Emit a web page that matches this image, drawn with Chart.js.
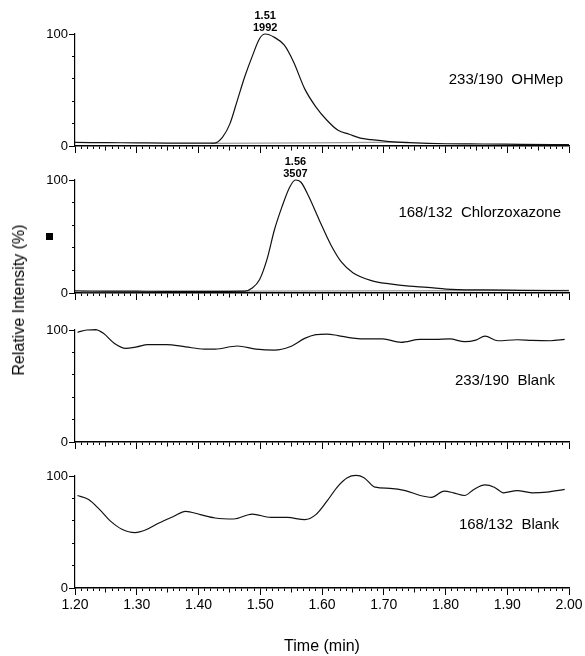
<!DOCTYPE html>
<html>
<head>
<meta charset="utf-8">
<script src="https://cdn.jsdelivr.net/npm/chart.js@4/dist/chart.umd.min.js"></script>
<style>
  html, body { margin: 0; padding: 0; background: #fff; }
  #wrap { position: relative; width: 585px; height: 656px; overflow: hidden; }
  #wrap canvas { position: absolute; left: 0; }
  #ytitle {
    position: absolute; left: 19px; top: 300px;
    transform: translate(-50%, -50%) rotate(-90deg);
    font: 16px "Liberation Sans", Arial, sans-serif; white-space: nowrap; color: #000;
  }
</style>
</head>
<body>
<div id="wrap">
  <canvas id="p1" width="585" height="152" style="top:4px"></canvas>
  <canvas id="p2" width="585" height="153" style="top:150px"></canvas>
  <canvas id="p3" width="585" height="152" style="top:300px"></canvas>
  <canvas id="p4" width="585" height="210" style="top:446px"></canvas>
  <div id="ytitle">Relative Intensity (%)</div>
</div>
<script>
// 233/190 OHMep (time in min, relative intensity in %)
const ohmepTime = [1.20, 1.25, 1.30, 1.35, 1.40, 1.425, 1.439, 1.451, 1.463, 1.475, 1.487, 1.499, 1.508, 1.523, 1.539, 1.554, 1.572, 1.590, 1.608, 1.626, 1.644, 1.662, 1.680, 1.710, 1.741, 1.801, 1.861, 1.922, 2.00];
const ohmepValue = [3.2, 3.0, 2.8, 2.6, 2.5, 2.5, 8, 20, 41, 62, 80, 96, 100, 97, 90, 75, 51, 35, 23, 14, 10.5, 7, 5.7, 3.9, 3.0, 2.0, 1.8, 1.5, 1.2];
const ohmepBaseTime = [1.42, 1.74];
const ohmepBaseValue = [2.3, 3.4];

// 168/132 Chlorzoxazone
const chlorTime = [1.20, 1.25, 1.30, 1.35, 1.40, 1.45, 1.475, 1.487, 1.499, 1.511, 1.523, 1.535, 1.548, 1.557, 1.566, 1.578, 1.596, 1.614, 1.632, 1.650, 1.680, 1.710, 1.741, 1.771, 1.801, 1.861, 1.922, 2.00];
const chlorValue = [1.8, 1.7, 1.6, 1.5, 1.5, 1.5, 1.6, 4.4, 12, 30, 56, 76, 94, 100, 98, 86, 64, 43, 27, 18, 11, 8, 6, 5, 3.5, 2.7, 2.4, 2.0];
const chlorBaseTime = [1.21, 2.00];
const chlorBaseValue = [1.2, 2.4];

// 233/190 Blank
const blankATime = [1.204, 1.219, 1.234, 1.246, 1.264, 1.282, 1.300, 1.318, 1.348, 1.379, 1.409, 1.427, 1.463, 1.493, 1.523, 1.548, 1.572, 1.590, 1.608, 1.626, 1.650, 1.674, 1.698, 1.728, 1.759, 1.783, 1.807, 1.831, 1.849, 1.864, 1.885, 1.916, 1.940, 1.970, 1.993];
const blankAValue = [98, 100, 100.3, 97, 88, 83.6, 85, 87, 87, 85, 83, 83, 85.7, 83, 82, 85, 92.5, 95.8, 96.4, 95, 92.8, 92, 92, 89, 91.6, 91.6, 92, 89.6, 91, 94.5, 90.4, 91.3, 90.7, 90.4, 91.6];

// 168/132 Blank
const blankBTime = [1.204, 1.222, 1.240, 1.258, 1.276, 1.297, 1.315, 1.336, 1.360, 1.379, 1.403, 1.427, 1.457, 1.487, 1.517, 1.544, 1.572, 1.590, 1.608, 1.626, 1.641, 1.655, 1.668, 1.686, 1.710, 1.735, 1.759, 1.777, 1.798, 1.813, 1.831, 1.846, 1.864, 1.879, 1.894, 1.916, 1.940, 1.964, 1.993];
const blankBValue = [82.6, 79, 70, 59.5, 52.5, 49.5, 52, 58, 64, 68.5, 65.5, 62.5, 61.6, 66, 63, 63, 61, 65.5, 77.5, 91, 98.5, 100.5, 98.5, 90, 89, 87, 82.6, 81, 86.5, 85, 82.6, 88, 92, 90, 85, 87, 85, 85.6, 88];

const xTickLabels = ["1.20", "1.30", "1.40", "1.50", "1.60", "1.70", "1.80", "1.90", "2.00"];
const yTickLabels = ["0", "100"];

Chart.defaults.font.family = '"Liberation Sans", Arial, sans-serif';
Chart.defaults.color = "#000";

const points = (ts, vs) => ts.map((t, i) => ({ x: t, y: vs[i] }));

// panel label, peak note and marker
const panelText = {
  id: "panelText",
  afterDraw(chart, args, opts) {
    const { ctx, chartArea, scales } = chart;
    ctx.save();
    ctx.fillStyle = "#000";
    ctx.font = '15px "Liberation Sans", Arial, sans-serif';
    ctx.textAlign = "right";
    ctx.textBaseline = "middle";
    ctx.fillText(opts.label, chartArea.right - opts.inset, scales.y.getPixelForValue(opts.level));
    if (opts.peak) {
      const ds = chart.data.datasets[0].data;
      let top = ds[0];
      ds.forEach((p) => { if (p.y > top.y) top = p; });
      const px = scales.x.getPixelForValue(top.x);
      const py = scales.y.getPixelForValue(top.y);
      ctx.font = 'bold 11px "Liberation Sans", Arial, sans-serif';
      ctx.textAlign = "center";
      ctx.fillText(opts.peak[0], px, py - 18);
      ctx.fillText(opts.peak[1], px, py - 6);
    }
    if (opts.marker) {
      const my = scales.y.getPixelForValue(50);
      ctx.fillRect(46, Math.round(my - 3.5), 7, 7);
    }
    ctx.restore();
  },
};

function makePanel(id, traces, text, last) {
  const datasets = traces.map((tr) => ({
    data: points(tr.t, tr.v),
    borderColor: tr.color,
    borderWidth: 1.2,
    pointRadius: 0,
    cubicInterpolationMode: "monotone",
    clip: false,
  }));
  new Chart(document.getElementById(id), {
    type: "line",
    data: { datasets },
    plugins: [panelText],
    options: {
      responsive: false,
      animation: false,
      events: [],
      layout: { padding: { top: 30, right: 16, left: 0, bottom: 0 } },
      plugins: { legend: { display: false }, tooltip: { enabled: false }, panelText: text },
      scales: {
        x: {
          type: "linear",
          min: 1.2,
          max: 2.0,
          afterFit: (s) => { s.height = last ? 68 : 10; },
          border: { color: "#000", width: 1.5 },
          grid: {
            drawOnChartArea: false,
            tickLength: 7,
            tickColor: "#000",
            tickBorderDash: (c) => {
              const k = Math.round(c.tick.value * 100);
              if (k % 10 === 0) return [];
              if (k % 5 === 0) return [4, 20];
              return [2.5, 20];
            },
          },
          ticks: {
            stepSize: 0.01,
            autoSkip: false,
            maxRotation: 0,
            minRotation: 0,
            padding: 2,
            font: { size: 14 },
            callback: (v) => {
              if (!last) return "";
              const s = v.toFixed(2);
              return xTickLabels.includes(s) && Math.round(v * 100) % 10 === 0 ? s : "";
            },
          },
          title: {
            display: last,
            text: "Time (min)",
            font: { size: 16 },
            padding: { top: 0, bottom: 0 },
          },
        },
        y: {
          min: 0,
          max: 100,
          afterFit: (s) => { s.width = 75; },
          border: { color: "#000", width: 1.2 },
          grid: {
            drawOnChartArea: false,
            tickLength: 6,
            tickColor: "#000",
            tickBorderDash: (c) => (c.tick.value % 50 === 0 ? [] : [0, 3, 3, 20]),
          },
          ticks: {
            stepSize: 10,
            padding: 1,
            font: { size: 13 },
            callback: (v) => (yTickLabels.includes(String(v)) ? String(v) : ""),
          },
        },
      },
    },
  });
}

makePanel("p1", [
  { t: ohmepTime, v: ohmepValue, color: "#111" },
  { t: ohmepBaseTime, v: ohmepBaseValue, color: "#9a9a9a" },
], { label: "233/190  OHMep", inset: 6, level: 59, peak: ["1.51", "1992"] }, false);

makePanel("p2", [
  { t: chlorTime, v: chlorValue, color: "#111" },
  { t: chlorBaseTime, v: chlorBaseValue, color: "#9a9a9a" },
], { label: "168/132  Chlorzoxazone", inset: 8, level: 71, peak: ["1.56", "3507"], marker: true }, false);

makePanel("p3", [
  { t: blankATime, v: blankAValue, color: "#111" },
], { label: "233/190  Blank", inset: 14, level: 55 }, false);

makePanel("p4", [
  { t: blankBTime, v: blankBValue, color: "#111" },
], { label: "168/132  Blank", inset: 10, level: 56 }, true);
</script>
</body>
</html>
